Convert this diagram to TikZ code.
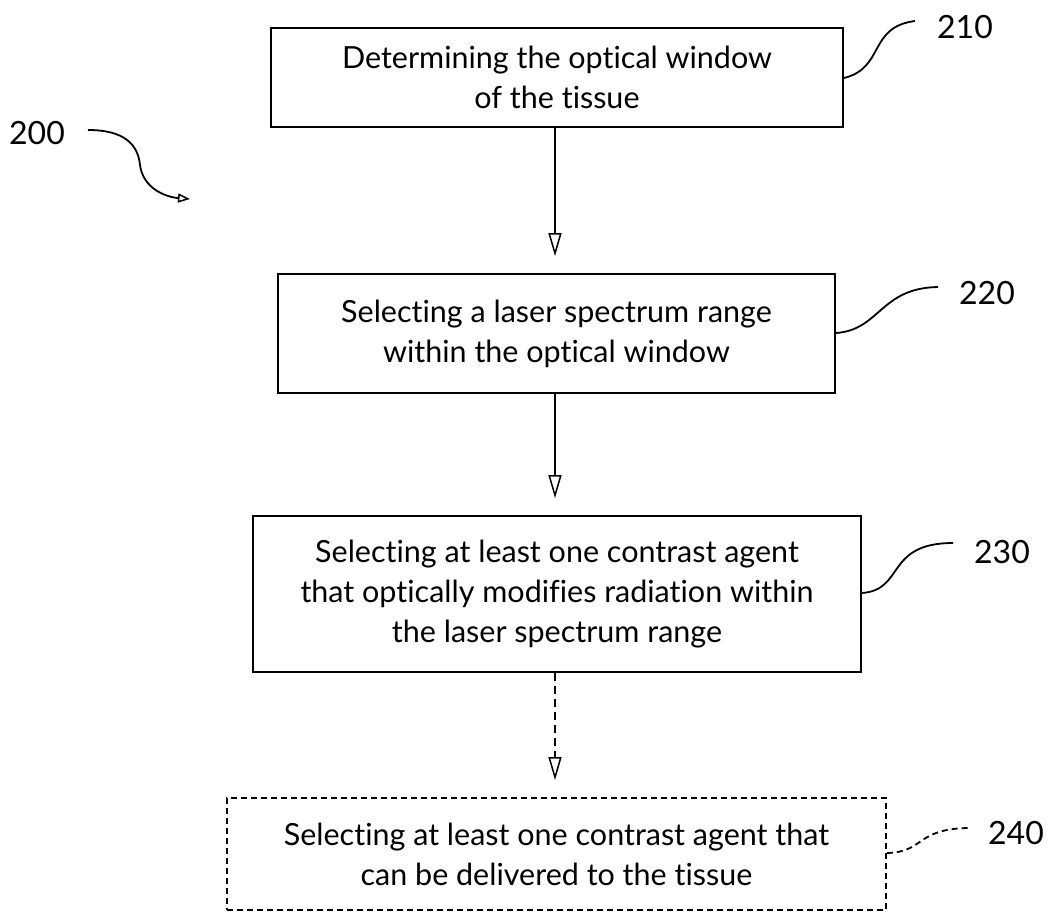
\documentclass[tikz,border=0pt]{standalone}
\usepackage{fontspec}
\setmainfont{Lato}[Ligatures=NoCommon]
\usetikzlibrary{arrows.meta}
\begin{document}
\begin{tikzpicture}[x=1pt,y=-1pt,
  stepbox/.style={draw, line width=1.8pt, align=center, inner sep=0pt,
    font=\fontsize{30.5}{40}\selectfont},
  flow/.style={line width=1.8pt, -{Triangle[open,length=23pt,width=13pt,line width=1.5pt]}, shorten >=17pt},
  lead/.style={line width=1.8pt},
  reflabel/.style={font=\fontsize{32}{36}\selectfont, inner sep=0pt}]
\useasboundingbox (0,0) rectangle (1051,913);
\node[stepbox, minimum width=572pt, minimum height=99pt] (s210) at (557,77.5)
  {Determining the optical window\\of the tissue};
\node[stepbox, minimum width=557pt, minimum height=119pt] (s220) at (556.5,333.5)
  {Selecting a laser spectrum range\\within the optical window};
\node[stepbox, minimum width=608pt, minimum height=156pt] (s230) at (557,594)
  {Selecting at least one contrast agent\\that optically modifies radiation within\\the laser spectrum range};
\node[stepbox, dashed, dash pattern=on 6pt off 4pt, minimum width=659pt, minimum height=112pt] (s240) at (556.5,854)
  {Selecting at least one contrast agent that\\can be delivered to the tissue};

\draw[flow] (s210.south -| 555,0) -- (s220.north -| 555,0);
\draw[flow] (s220.south -| 555,0) -- (s230.north -| 555,0);
\draw[flow, dash pattern=on 8pt off 5pt] (s230.south -| 555,0) -- (s240.north -| 555,0);

\node[reflabel] (l210) at (965,27) {210};
\node[reflabel] (l220) at (987,293) {220};
\node[reflabel] (l230) at (1002,552) {230};
\node[reflabel] (l240) at (1016,833) {240};
\node[reflabel] (l200) at (37,133) {200};

\coordinate (c210) at (s210.east |- 0,78);
\coordinate (c220) at (s220.east |- 0,333);
\coordinate (c230) at (s230.east |- 0,593);
\coordinate (c240) at (s240.east |- 0,853);
\draw[lead] (c210) .. controls (885,68) and (868,27) .. (915,21);
\draw[lead] (c220) .. controls (880,330) and (880,288) .. (938,287);
\draw[lead] (c230) .. controls (905,590) and (885,543) .. (953,543);
\draw[lead, dash pattern=on 6pt off 4pt] (c240) .. controls (925,852) and (915,829) .. (968,828);
\coordinate (a200) at (190,199);
\draw[lead, -{Triangle[open,length=12pt,width=9pt,line width=1.5pt]}] (88,130)
  .. controls (125,130) and (138,145) .. (140,165) .. controls (143,188) and (165,197) .. (a200);
\end{tikzpicture}
\end{document}
